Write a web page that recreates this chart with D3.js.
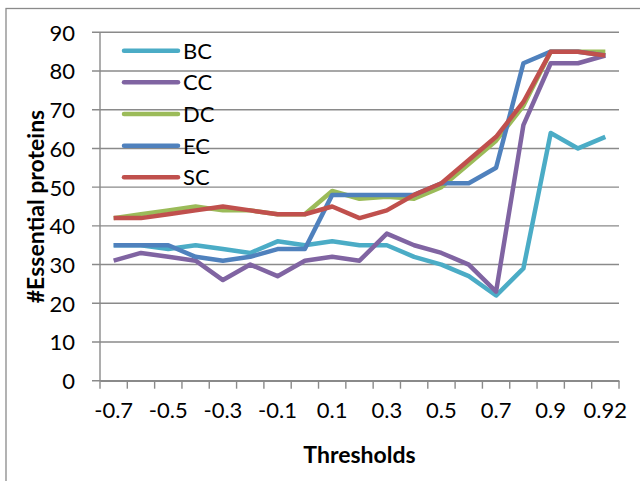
<!DOCTYPE html>
<html>
<head>
<meta charset="utf-8">
<script src="https://cdn.jsdelivr.net/npm/d3@7"></script>
<style>
  html, body { margin: 0; padding: 0; background: #ffffff; }
  svg { display: block; }
  text { font-family: Lato, "Open Sans", sans-serif; fill: #000; }
</style>
</head>
<body>
<svg id="chart" width="640" height="481"></svg>
<script>
// Threshold categories along the x axis
const thresholds = ["-0.7", "-0.6", "-0.5", "-0.4", "-0.3", "-0.2", "-0.1", "0", "0.1", "0.2",
                    "0.3", "0.4", "0.5", "0.6", "0.7", "0.8", "0.9", "0.91", "0.92"];
const xTickLabels = ["-0.7", "-0.5", "-0.3", "-0.1", "0.1", "0.3", "0.5", "0.7", "0.9", "0.92"];
const yTicks = [0, 10, 20, 30, 40, 50, 60, 70, 80, 90];

// Essential proteins identified by each centrality measure
const seriesNames = ["BC", "CC", "DC", "EC", "SC"];
const bcValues = [35, 35, 34, 35, 34, 33, 36, 35, 36, 35, 35, 32, 30, 27, 22, 29, 64, 60, 63];
const ccValues = [31, 33, 32, 31, 26, 30, 27, 31, 32, 31, 38, 35, 33, 30, 23, 66, 82, 82, 84];
const dcValues = [42, 43, 44, 45, 44, 44, 43, 43, 49, 47, 47.5, 47, 50, 56, 62, 71, 85, 85, 85];
const ecValues = [35, 35, 35, 32, 31, 32, 34, 34, 48, 48, 48, 48, 51, 51, 55, 82, 85, 85, 84];
const scValues = [42, 42, 43, 44, 45, 44, 43, 43, 45, 42, 44, 48, 51, 57, 63, 72, 85, 85, 84];
const seriesColors = ["#4BACC6", "#8064A2", "#9BBB59", "#4F81BD", "#C0504D"];

const series = seriesNames.map((name, i) => ({
  name,
  color: seriesColors[i],
  values: [bcValues, ccValues, dcValues, ecValues, scValues][i]
}));

const svg = d3.select("#chart");
const gridColor = "#8a8a8a";

// Outer chart frame
svg.append("rect")
  .attr("x", 6).attr("y", 8.5)
  .attr("width", 700).attr("height", 600)
  .attr("fill", "none")
  .attr("stroke", gridColor)
  .attr("stroke-width", 1.3);

const plot = { left: 100, right: 619, top: 32.3, bottom: 380.7 };

const x = d3.scaleBand().domain(thresholds).range([plot.left, plot.right]).padding(0);
const y = d3.scaleLinear().domain([0, 90]).range([plot.bottom, plot.top]);

// Horizontal gridlines (extend left as tick marks)
svg.append("g")
  .selectAll("line")
  .data(yTicks)
  .join("line")
  .attr("x1", plot.left - 8).attr("x2", plot.right)
  .attr("y1", d => y(d)).attr("y2", d => y(d))
  .attr("stroke", gridColor)
  .attr("stroke-width", 1.4);

// Y axis
const yAxis = svg.append("g")
  .attr("transform", `translate(${plot.left},0)`)
  .call(d3.axisLeft(y).tickValues(yTicks).tickSize(0).tickPadding(25).tickSizeOuter(0));
yAxis.select(".domain").attr("stroke", gridColor).attr("stroke-width", 1.4)
  .attr("d", `M0,${plot.top}V${plot.bottom}`);
yAxis.selectAll(".tick text")
  .style("font-family", "Lato, sans-serif")
  .attr("font-size", 22)
  .attr("dy", "0.36em");

// X axis: tick marks sit on category boundaries
const boundaries = d3.range(thresholds.length + 1).map(i => plot.left + i * x.step());
svg.append("g")
  .selectAll("line")
  .data(boundaries)
  .join("line")
  .attr("x1", d => d).attr("x2", d => d)
  .attr("y1", plot.bottom).attr("y2", plot.bottom + 8)
  .attr("stroke", gridColor)
  .attr("stroke-width", 1.4);

const xAxis = svg.append("g")
  .attr("transform", `translate(0,${plot.bottom})`)
  .call(d3.axisBottom(x).tickValues(xTickLabels).tickSize(0).tickPadding(22).tickSizeOuter(0));
xAxis.select(".domain").attr("stroke", gridColor).attr("stroke-width", 1.4);
xAxis.selectAll(".tick text")
  .style("font-family", "Lato, sans-serif")
  .attr("font-size", 22);

// Axis titles
svg.append("text")
  .attr("x", (plot.left + plot.right) / 2)
  .attr("y", 463)
  .attr("text-anchor", "middle")
  .attr("font-size", 23)
  .attr("font-weight", "bold")
  .text("Thresholds");

svg.append("text")
  .attr("transform", `translate(44,${(plot.top + plot.bottom) / 2}) rotate(-90)`)
  .attr("text-anchor", "middle")
  .attr("font-size", 23)
  .attr("font-weight", "bold")
  .text("#Essential proteins");

// Series lines
const line = d3.line()
  .x((d, i) => x(thresholds[i]) + x.bandwidth() / 2)
  .y(d => y(d));

svg.append("g")
  .selectAll("path")
  .data(series)
  .join("path")
  .attr("d", d => line(d.values))
  .attr("fill", "none")
  .attr("stroke", d => d.color)
  .attr("stroke-width", 4.5)
  .attr("stroke-linejoin", "round")
  .attr("stroke-linecap", "butt");

// Legend
const legend = svg.append("g")
  .selectAll("g")
  .data(series)
  .join("g")
  .attr("transform", (d, i) => `translate(124,${50.7 + i * 31.65})`);
legend.append("line")
  .attr("x1", 0).attr("x2", 54)
  .attr("stroke", d => d.color)
  .attr("stroke-width", 4.5)
  .attr("stroke-linecap", "round");
legend.append("text")
  .attr("x", 59)
  .attr("dy", "0.36em")
  .attr("font-size", 22)
  .text(d => d.name);
</script>
</body>
</html>
